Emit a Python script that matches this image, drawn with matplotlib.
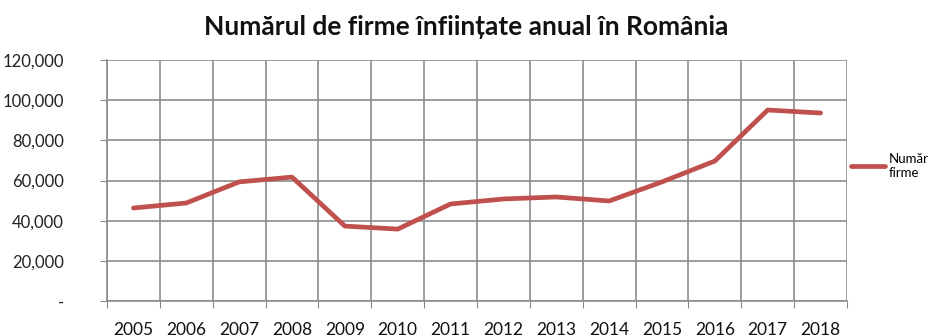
import numpy as np
import matplotlib.pyplot as plt

years = ['2005', '2006', '2007', '2008', '2009', '2010', '2011',
         '2012', '2013', '2014', '2015', '2016', '2017', '2018']
firme = [46300, 48800, 59300, 61700, 37300, 35800, 48300,
         50800, 51800, 49800, 59300, 69700, 95100, 93600]
yticks = [0, 20000, 40000, 60000, 80000, 100000, 120000]
ylabels = ['-', '20,000', '40,000', '60,000', '80,000', '100,000', '120,000']

plt.rcParams['font.family'] = ['Lato', 'DejaVu Sans']

fig = plt.figure(figsize=(9.38, 3.36), dpi=100)
ax = fig.add_axes([107/938, 1 - 301/336, 740/938, 241/336])

x = np.arange(len(years))
ax.plot(x, firme, color='#C0504D', linewidth=3.4, solid_capstyle='round',
        label='Număr\nfirme')

ax.set_xlim(-0.5, len(years) - 0.5)
ax.set_ylim(0, 120000)
ax.set_yticks(yticks)
ax.set_yticklabels(ylabels, fontsize=12, color='#222222')

# category boundaries for ticks / vertical grid
ax.set_xticks(np.arange(-0.5, len(years), 1))
ax.set_xticklabels([])
ax.set_xticks(x, minor=True)
ax.set_xticklabels(years, minor=True, fontsize=12.5, color='#111111')
ax.tick_params(axis='x', which='minor', length=0, pad=15)
ax.tick_params(axis='x', which='major', length=5, color='#888888')
ax.tick_params(axis='y', length=5, color='#888888', pad=26)

ax.grid(True, which='major', color='#8c8c8c', linewidth=1.2)
for s in ['top', 'right']:
    ax.spines[s].set_visible(False)
for s in ['left', 'bottom']:
    ax.spines[s].set_color('#8c8c8c')
    ax.spines[s].set_linewidth(1.2)
ax.set_axisbelow(True)

fig.text(466/938, 1 - 27/336, 'Numărul de firme înființate anual în România',
         ha='center', va='center', fontsize=19, fontweight='bold', color='#111111')

leg = ax.legend(loc='upper left', bbox_to_anchor=(851/938, 1 - 153/336),
                bbox_transform=fig.transFigure, frameon=False,
                fontsize=9.5, handlelength=2.6, handletextpad=0.25,
                borderpad=0, borderaxespad=0)

fig.savefig('out.png', dpi=100)
